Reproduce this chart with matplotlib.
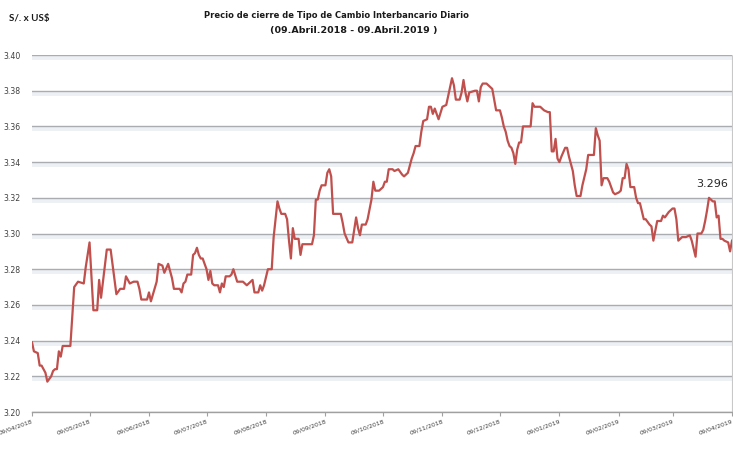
import matplotlib
matplotlib.use("Agg")
import matplotlib.pyplot as plt
import matplotlib.patheffects as pe
import numpy as np

# ---------------- data ----------------
start_date = "2018-04-09"
end_date = "2019-04-09"

# days elapsed since start_date for each traced observation
day_offsets = [
    0, 1, 3, 4, 5, 7, 8, 10, 11, 12, 13, 14, 15, 16, 20, 22, 24, 27, 28, 30,
    32, 34, 35, 36, 39, 41, 44, 46, 48, 49, 51, 53, 55, 56, 57, 59, 60, 61, 62, 65,
    66, 68, 69, 71, 73, 74, 76, 77, 78, 79, 80, 81, 83, 84, 85, 86, 87, 88, 89, 91,
    92, 93, 94, 95, 97, 98, 99, 100, 101, 103, 104, 105, 107, 110, 112, 113, 115, 116, 118, 119,
    120, 121, 123, 125, 126, 128, 129, 130, 132, 133, 134, 135, 136, 137, 139, 140, 141, 144, 146, 147,
    148, 149, 150, 151, 153, 154, 155, 156, 157, 161, 162, 163, 165, 167, 168, 169, 170, 171, 172, 174,
    175, 177, 178, 179, 181, 183, 184, 185, 186, 188, 189, 191, 193, 194, 196, 198, 199, 200, 202, 203,
    204, 206, 207, 208, 209, 210, 211, 212, 214, 216, 217, 219, 220, 221, 223, 224, 225, 226, 227, 228,
    231, 232, 233, 234, 235, 237, 238, 240, 241, 242, 244, 245, 246, 247, 248, 249, 250, 251, 252, 253,
    254, 255, 256, 259, 260, 261, 262, 265, 266, 267, 269, 270, 271, 272, 273, 274, 275, 276, 278, 279,
    280, 282, 283, 284, 286, 287, 289, 290, 291, 293, 294, 295, 296, 297, 298, 300, 301, 303, 304, 306,
    307, 308, 309, 310, 311, 312, 314, 315, 316, 317, 319, 320, 322, 323, 324, 326, 328, 329, 330, 332,
    334, 335, 336, 337, 339, 341, 343, 344, 346, 347, 349, 350, 351, 352, 353, 355, 356, 357, 358, 359,
    360, 361, 363, 364, 365,
]

tipo_cambio = [
    3.239, 3.234, 3.233, 3.226, 3.226, 3.222, 3.217, 3.220, 3.223, 3.224, 3.224, 3.234, 3.231, 3.237, 3.237, 3.270, 3.273, 3.272, 3.281, 3.295,
    3.257, 3.257, 3.274, 3.264, 3.291, 3.291, 3.266, 3.269, 3.269, 3.276, 3.272, 3.273, 3.273, 3.269, 3.263, 3.263, 3.263, 3.267, 3.262, 3.273,
    3.283, 3.282, 3.278, 3.283, 3.275, 3.269, 3.269, 3.269, 3.267, 3.272, 3.273, 3.277, 3.277, 3.288, 3.289, 3.292, 3.288, 3.286, 3.286, 3.280,
    3.274, 3.279, 3.272, 3.271, 3.271, 3.267, 3.272, 3.270, 3.276, 3.276, 3.277, 3.280, 3.273, 3.273, 3.271, 3.272, 3.274, 3.267, 3.267, 3.271,
    3.268, 3.271, 3.280, 3.280, 3.298, 3.318, 3.314, 3.311, 3.311, 3.308, 3.296, 3.286, 3.303, 3.297, 3.297, 3.288, 3.294, 3.294, 3.294, 3.299,
    3.319, 3.319, 3.324, 3.327, 3.327, 3.334, 3.336, 3.332, 3.311, 3.311, 3.306, 3.300, 3.295, 3.295, 3.302, 3.309, 3.303, 3.299, 3.305, 3.305,
    3.308, 3.319, 3.329, 3.324, 3.324, 3.326, 3.329, 3.329, 3.336, 3.336, 3.335, 3.336, 3.333, 3.332, 3.334, 3.342, 3.345, 3.349, 3.349, 3.357,
    3.363, 3.364, 3.371, 3.371, 3.367, 3.370, 3.367, 3.364, 3.371, 3.372, 3.377, 3.387, 3.383, 3.375, 3.375, 3.379, 3.386, 3.379, 3.374, 3.379,
    3.380, 3.380, 3.374, 3.382, 3.384, 3.384, 3.383, 3.381, 3.375, 3.369, 3.369, 3.365, 3.360, 3.357, 3.352, 3.349, 3.348, 3.345, 3.339, 3.347,
    3.351, 3.351, 3.360, 3.360, 3.360, 3.373, 3.371, 3.371, 3.370, 3.369, 3.368, 3.368, 3.346, 3.346, 3.353, 3.342, 3.340, 3.343, 3.348, 3.348,
    3.343, 3.335, 3.327, 3.321, 3.321, 3.327, 3.336, 3.344, 3.344, 3.344, 3.359, 3.355, 3.352, 3.327, 3.331, 3.331, 3.329, 3.323, 3.322, 3.323,
    3.324, 3.331, 3.331, 3.339, 3.336, 3.326, 3.326, 3.320, 3.317, 3.317, 3.308, 3.308, 3.305, 3.304, 3.296, 3.307, 3.307, 3.310, 3.309, 3.312,
    3.314, 3.314, 3.308, 3.296, 3.298, 3.298, 3.299, 3.296, 3.287, 3.300, 3.300, 3.302, 3.307, 3.313, 3.320, 3.318, 3.318, 3.309, 3.310, 3.297,
    3.297, 3.296, 3.295, 3.290, 3.296,
]

tick_dates = [
    "2018-04-09", "2018-05-09", "2018-06-09", "2018-07-09", "2018-08-09", "2018-09-09", "2018-10-09",
    "2018-11-09", "2018-12-09", "2019-01-09", "2019-02-09", "2019-03-09", "2019-04-09",
]
tick_labels = [
    "09/04/2018", "09/05/2018", "09/06/2018", "09/07/2018", "09/08/2018", "09/09/2018", "09/10/2018",
    "09/11/2018", "09/12/2018", "09/01/2019", "09/02/2019", "09/03/2019", "09/04/2019",
]
y_ticks = [3.20, 3.22, 3.24, 3.26, 3.28, 3.30, 3.32, 3.34, 3.36, 3.38, 3.40]

title_line1 = "Precio de cierre de Tipo de Cambio Interbancario Diario"
title_line2 = "(09.Abril.2018 - 09.Abril.2019 )"
y_unit = "S/. x US$"

# ---------------- figure ----------------
W, H = 733, 476
fig = plt.figure(figsize=(W / 100, H / 100), dpi=100)
fig.patch.set_facecolor("white")

ax = fig.add_axes([32 / W, 1 - 412 / H, 700 / W, 357 / H])

dates = np.datetime64(start_date) + np.array(day_offsets).astype("timedelta64[D]")
ax.plot(dates, tipo_cambio, color="#c0504d", lw=1.6, solid_joinstyle="round", zorder=3)

ax.set_xlim(np.datetime64(start_date), np.datetime64(end_date))
ax.set_ylim(y_ticks[0], y_ticks[-1])

# y axis
ax.set_yticks(y_ticks)
ax.set_yticklabels([f"{v:.2f}" for v in y_ticks], fontsize=5.6, color="#404040")
ax.tick_params(axis="y", length=0, pad=8)
ax.yaxis.grid(True, color="#a9acb1", lw=1.0)
ax.set_axisbelow(True)
for gl in ax.get_ygridlines():
    gl.set_path_effects([
        pe.SimpleLineShadow(offset=(0, -1.5), shadow_color="#edf0f4", alpha=1.0, linewidth=3.5),
        pe.Normal(),
    ])

# x axis
ax.set_xticks(np.array(tick_dates, dtype="datetime64[D]"))
ax.set_xticklabels(tick_labels, fontsize=4.5, color="#404040", rotation=20,
                   ha="right", rotation_mode="anchor")
ax.tick_params(axis="x", direction="out", length=3, width=0.8, color="#a0a0a0", pad=1.5)

for s in ["top", "left"]:
    ax.spines[s].set_visible(False)
ax.spines["bottom"].set_color("#a0a0a0")
ax.spines["bottom"].set_linewidth(1.0)
ax.spines["right"].set_color("#c8c8c8")
ax.spines["right"].set_linewidth(0.8)
ax.spines["right"].set_linestyle((0, (1, 1)))

# last value label
ax.annotate(f"{tipo_cambio[-1]:.3f}", xy=(dates[-1], tipo_cambio[-1]),
            xytext=(-14.5, 41), textcoords="offset points",
            ha="center", va="center", fontsize=8, color="#262626")

# titles
fig.text(336 / W, 1 - 16 / H, title_line1, ha="center", va="center",
         fontsize=6.0, fontweight="bold", color="#1a1a1a")
fig.text(354 / W, 1 - 31 / H, title_line2, ha="center", va="center",
         fontsize=6.8, fontweight="bold", color="#1a1a1a")
fig.text(9 / W, 1 - 18 / H, y_unit, ha="left", va="center",
         fontsize=7.0, fontweight="bold", family=["Lato", "DejaVu Sans"], color="#1a1a1a")

fig.savefig("out.png", dpi=100, facecolor="white")
